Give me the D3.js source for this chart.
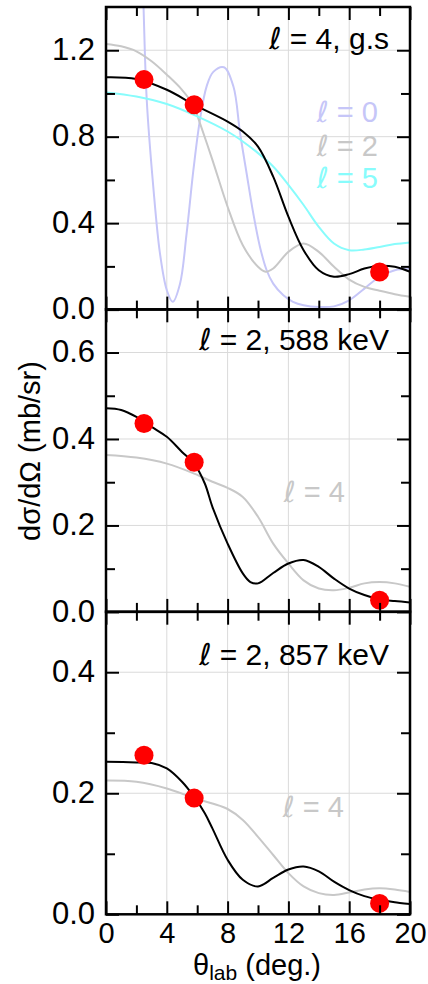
<!DOCTYPE html>
<html>
<head>
<meta charset="utf-8">
<script src="https://cdn.jsdelivr.net/npm/d3@7"></script>
<style>
  html, body { margin: 0; padding: 0; background: #fff; }
  svg { display: block; }
  text { font-family: "Liberation Sans", Arial, Helvetica, sans-serif; }
</style>
</head>
<body>
<svg id="chart" width="428" height="984"></svg>
<script>
// Angle grid (deg.) and tick labels
const xTicks = [0, 4, 8, 12, 16, 20];
const xMinorTicks = [2, 6, 10, 14, 18];

// Panel 1: l = 4 ground state
const gsAngles = [0, 2, 4, 5.8, 8, 9, 10, 11, 12, 13, 14, 15, 16, 17, 18, 19, 20];
const gsL4 = [1.075, 1.067, 1.017, 0.948, 0.870, 0.824, 0.754, 0.615, 0.43, 0.275, 0.182, 0.152, 0.164, 0.19, 0.203, 0.198, 0.175];
const gsL2Angles = [0, 1, 2, 3, 4, 5, 5.8, 6, 7, 8, 9, 10, 10.5, 11, 12, 13, 14, 15, 16, 17, 18, 19, 20];
const gsL2 = [1.229, 1.218, 1.195, 1.149, 1.087, 1.017, 0.94, 0.90, 0.693, 0.476, 0.298, 0.198, 0.175, 0.19, 0.267, 0.306, 0.267, 0.198, 0.139, 0.105, 0.087, 0.071, 0.059];
const gsL5Angles = [0, 2, 4, 6, 8, 9, 10, 11, 12, 13, 14, 15, 16, 17, 18, 19, 20];
const gsL5 = [1.005, 0.986, 0.951, 0.894, 0.824, 0.778, 0.724, 0.662, 0.577, 0.484, 0.383, 0.306, 0.275, 0.278, 0.29, 0.303, 0.311];
const gsL0Angles = [1.8, 2.2, 2.47, 2.68, 3.11, 3.55, 4.0, 4.39, 4.87, 5.3, 5.75, 6.18, 6.62, 7.06, 7.76, 8.38, 8.82, 9.25, 9.69, 10.13, 10.57, 11.0, 11.67, 12.3, 13, 14, 15, 16, 17, 18, 19, 20];
const gsL0 = [3.2, 2.1, 1.40, 0.971, 0.569, 0.26, 0.09, 0.036, 0.12, 0.35, 0.646, 0.878, 1.033, 1.10, 1.121, 1.033, 0.817, 0.631, 0.445, 0.29, 0.182, 0.12, 0.066, 0.036, 0.02, 0.012, 0.015, 0.043, 0.097, 0.152, 0.182, 0.19];
const gsDataX = [2.5, 5.8, 18];
const gsDataY = [1.064, 0.948, 0.174];

// Panel 2: l = 2, 588 keV
const s588Angles = [0, 1, 2, 3, 4, 5, 5.8, 6.5, 7, 8, 9, 9.5, 10, 11, 12, 13, 14, 15, 16, 17, 18, 19, 20];
const s588L2 = [0.471, 0.467, 0.451, 0.428, 0.405, 0.37, 0.343, 0.297, 0.243, 0.158, 0.089, 0.069, 0.066, 0.09, 0.112, 0.12, 0.104, 0.077, 0.054, 0.039, 0.029, 0.025, 0.022];
const s588L4Angles = [0, 2, 4, 5.8, 7, 8, 9, 10, 11, 12, 13, 14, 15, 16, 17, 18, 19, 20];
const s588L4 = [0.363, 0.357, 0.343, 0.32, 0.301, 0.287, 0.266, 0.22, 0.158, 0.112, 0.073, 0.054, 0.05, 0.056, 0.066, 0.069, 0.066, 0.058];
const s588DataX = [2.5, 5.8, 18];
const s588DataY = [0.436, 0.346, 0.027];

// Panel 3: l = 2, 857 keV
const s857Angles = [0, 2, 3, 4, 5, 5.8, 6.5, 7, 8, 9, 10, 11, 12, 13, 14, 15, 16, 17, 18, 19, 20];
const s857L2 = [0.252, 0.251, 0.25, 0.241, 0.219, 0.194, 0.167, 0.142, 0.09, 0.057, 0.046, 0.06, 0.074, 0.079, 0.071, 0.054, 0.04, 0.03, 0.024, 0.02, 0.017];
const s857L4Angles = [0, 2, 4, 5.8, 7, 8, 9, 10, 11, 12, 13, 14, 15, 16, 17, 18, 19, 20];
const s857L4 = [0.221, 0.219, 0.208, 0.192, 0.183, 0.174, 0.156, 0.128, 0.098, 0.068, 0.046, 0.035, 0.032, 0.036, 0.041, 0.043, 0.041, 0.037];
const s857DataX = [2.5, 5.8, 18];
const s857DataY = [0.263, 0.192, 0.018];

// y-axis ranges and ticks per panel
const yMaxes = [1.4, 0.7, 0.5];
const yMajor = [[0, 0.4, 0.8, 1.2], [0, 0.2, 0.4, 0.6], [0, 0.2, 0.4]];
const yMinor = [[0.2, 0.6, 1.0], [0.1, 0.3, 0.5], [0.1, 0.3]];

const C_BLACK = "#000";
const C_GRAY = "#c8c8c8";
const C_LAV = "#c6c6f8";
const C_CYAN = "#88fcfc";
const C_RED = "#ff0000";

const panels = [
  {
    title: " = 4, g.s", titleY: 49,
    curves: [
      { x: gsL0Angles, y: gsL0, color: C_LAV },
      { x: gsL2Angles, y: gsL2, color: C_GRAY },
      { x: gsL5Angles, y: gsL5, color: C_CYAN },
      { x: gsAngles, y: gsL4, color: C_BLACK }
    ],
    data: { x: gsDataX, y: gsDataY },
    labels: [
      { text: " = 0", color: C_LAV, vy: 0.869, right: 378 },
      { text: " = 2", color: C_GRAY, vy: 0.711, right: 378 },
      { text: " = 5", color: C_CYAN, vy: 0.562, right: 378 }
    ]
  },
  {
    title: " = 2, 588 keV", titleY: 350,
    curves: [
      { x: s588L4Angles, y: s588L4, color: C_GRAY },
      { x: s588Angles, y: s588L2, color: C_BLACK }
    ],
    data: { x: s588DataX, y: s588DataY },
    labels: [{ text: " = 4", color: C_GRAY, vy: 0.254, right: 345 }]
  },
  {
    title: " = 2, 857 keV", titleY: 665,
    curves: [
      { x: s857L4Angles, y: s857L4, color: C_GRAY },
      { x: s857Angles, y: s857L2, color: C_BLACK }
    ],
    data: { x: s857DataX, y: s857DataY },
    labels: [{ text: " = 4", color: C_GRAY, vy: 0.161, right: 344 }]
  }
];

// text with a script-italic ℓ in front
function ellText(sel, rest) {
  sel.append("tspan").attr("font-family", '"DejaVu Sans", sans-serif')
    .attr("font-style", "italic").text("ℓ");
  sel.append("tspan").text(rest);
}

const svg = d3.select("#chart");
const left = 106, right = 410;
const tops = [7, 309.3, 611.7];
const panelH = 302.6;

const x = d3.scaleLinear().domain([0, 20]).range([left, right]);

panels.forEach((p, i) => {
  const top = tops[i];
  const bottom = top + panelH;
  const y = d3.scaleLinear().domain([0, yMaxes[i]]).range([bottom, top]);
  const g = svg.append("g");

  const clipId = "clip" + i;
  svg.append("clipPath").attr("id", clipId)
    .append("rect").attr("x", left).attr("y", top).attr("width", right - left).attr("height", panelH);

  // grid
  const grid = g.append("g").attr("stroke", "#dadada").attr("stroke-width", 1);
  [4, 8, 12, 16].forEach(v => grid.append("line")
    .attr("x1", x(v)).attr("x2", x(v)).attr("y1", top).attr("y2", bottom));
  yMajor[i].filter(v => v > 0).forEach(v => grid.append("line")
    .attr("x1", left).attr("x2", right).attr("y1", y(v)).attr("y2", y(v)));

  // curve labels
  p.labels.forEach(l => {
    const t = g.append("text")
      .attr("x", l.right).attr("y", y(l.vy))
      .attr("text-anchor", "end")
      .attr("font-size", 29)
      .attr("fill", l.color);
    ellText(t, l.text);
  });

  // curves
  const line = d3.line().x(d => x(d[0])).y(d => y(d[1])).curve(d3.curveCatmullRom.alpha(0.5));
  const cg = g.append("g").attr("clip-path", `url(#${clipId})`);
  p.curves.forEach(c => {
    cg.append("path")
      .attr("d", line(c.x.map((v, k) => [v, c.y[k]])))
      .attr("fill", "none").attr("stroke", c.color).attr("stroke-width", 2);
  });

  // title
  const tt = g.append("text")
    .attr("x", 389).attr("y", p.titleY)
    .attr("text-anchor", "end").attr("font-size", 30).attr("fill", "#000");
  ellText(tt, p.title);

  // data points
  g.append("g").selectAll("circle")
    .data(p.data.x.map((v, k) => [v, p.data.y[k]]))
    .join("circle")
    .attr("cx", d => x(d[0])).attr("cy", d => y(d[1])).attr("r", 9.5)
    .attr("fill", C_RED);

  // axes with inward ticks on all sides
  const axL = d3.axisLeft(y).tickValues(yMajor[i]).tickSize(-13).tickFormat(d3.format(".1f")).tickPadding(11);
  const axLm = d3.axisLeft(y).tickValues(yMinor[i]).tickSize(-9).tickFormat("");
  const axR = d3.axisRight(y).tickValues(yMajor[i]).tickSize(-13).tickFormat("");
  const axRm = d3.axisRight(y).tickValues(yMinor[i]).tickSize(-9).tickFormat("");
  const axT = d3.axisTop(x).tickValues(xTicks).tickSize(-13).tickFormat("");
  const axTm = d3.axisTop(x).tickValues(xMinorTicks).tickSize(-9).tickFormat("");
  const axB = d3.axisBottom(x).tickValues(xTicks).tickSize(-13)
    .tickFormat(i === 2 ? d3.format("d") : "").tickPadding(i === 2 ? 8 : 3);
  const axBm = d3.axisBottom(x).tickValues(xMinorTicks).tickSize(-9).tickFormat("");

  const addAxis = (ax, tr, fs) => {
    const a = g.append("g").attr("transform", tr).call(ax);
    a.select(".domain").remove();
    a.selectAll("line").attr("stroke", "#000").attr("stroke-width", 2);
    a.selectAll("text").attr("font-size", fs || 31).attr("fill", "#000")
      .attr("font-family", '"Liberation Sans", Arial, sans-serif');
    return a;
  };
  const yl = addAxis(axL, `translate(${left},0)`);
  yl.selectAll("text").attr("dy", "0.3em");
  if (i > 0) yl.selectAll(".tick").filter(d => d === yMaxes[i]).remove();
  addAxis(axLm, `translate(${left},0)`);
  addAxis(axR, `translate(${right},0)`);
  addAxis(axRm, `translate(${right},0)`);
  addAxis(axT, `translate(0,${top})`);
  addAxis(axTm, `translate(0,${top})`);
  addAxis(axB, `translate(0,${bottom})`, 29);
  addAxis(axBm, `translate(0,${bottom})`);

  // frame
  g.append("rect").attr("x", left).attr("y", top).attr("width", right - left).attr("height", panelH)
    .attr("fill", "none").attr("stroke", "#000").attr("stroke-width", 2.5);
});

// axis titles
const xt = svg.append("text").attr("x", 257).attr("y", 975).attr("text-anchor", "middle")
  .attr("font-size", 29).attr("fill", "#000");
xt.append("tspan").text("θ");
xt.append("tspan").attr("font-size", 21).attr("dy", 5).text("lab");
xt.append("tspan").attr("dy", -5).text(" (deg.)");

svg.append("text")
  .attr("transform", "translate(40,451) rotate(-90)")
  .attr("text-anchor", "middle").attr("font-size", 29).attr("fill", "#000")
  .text("dσ/dΩ (mb/sr)");
</script>
</body>
</html>
